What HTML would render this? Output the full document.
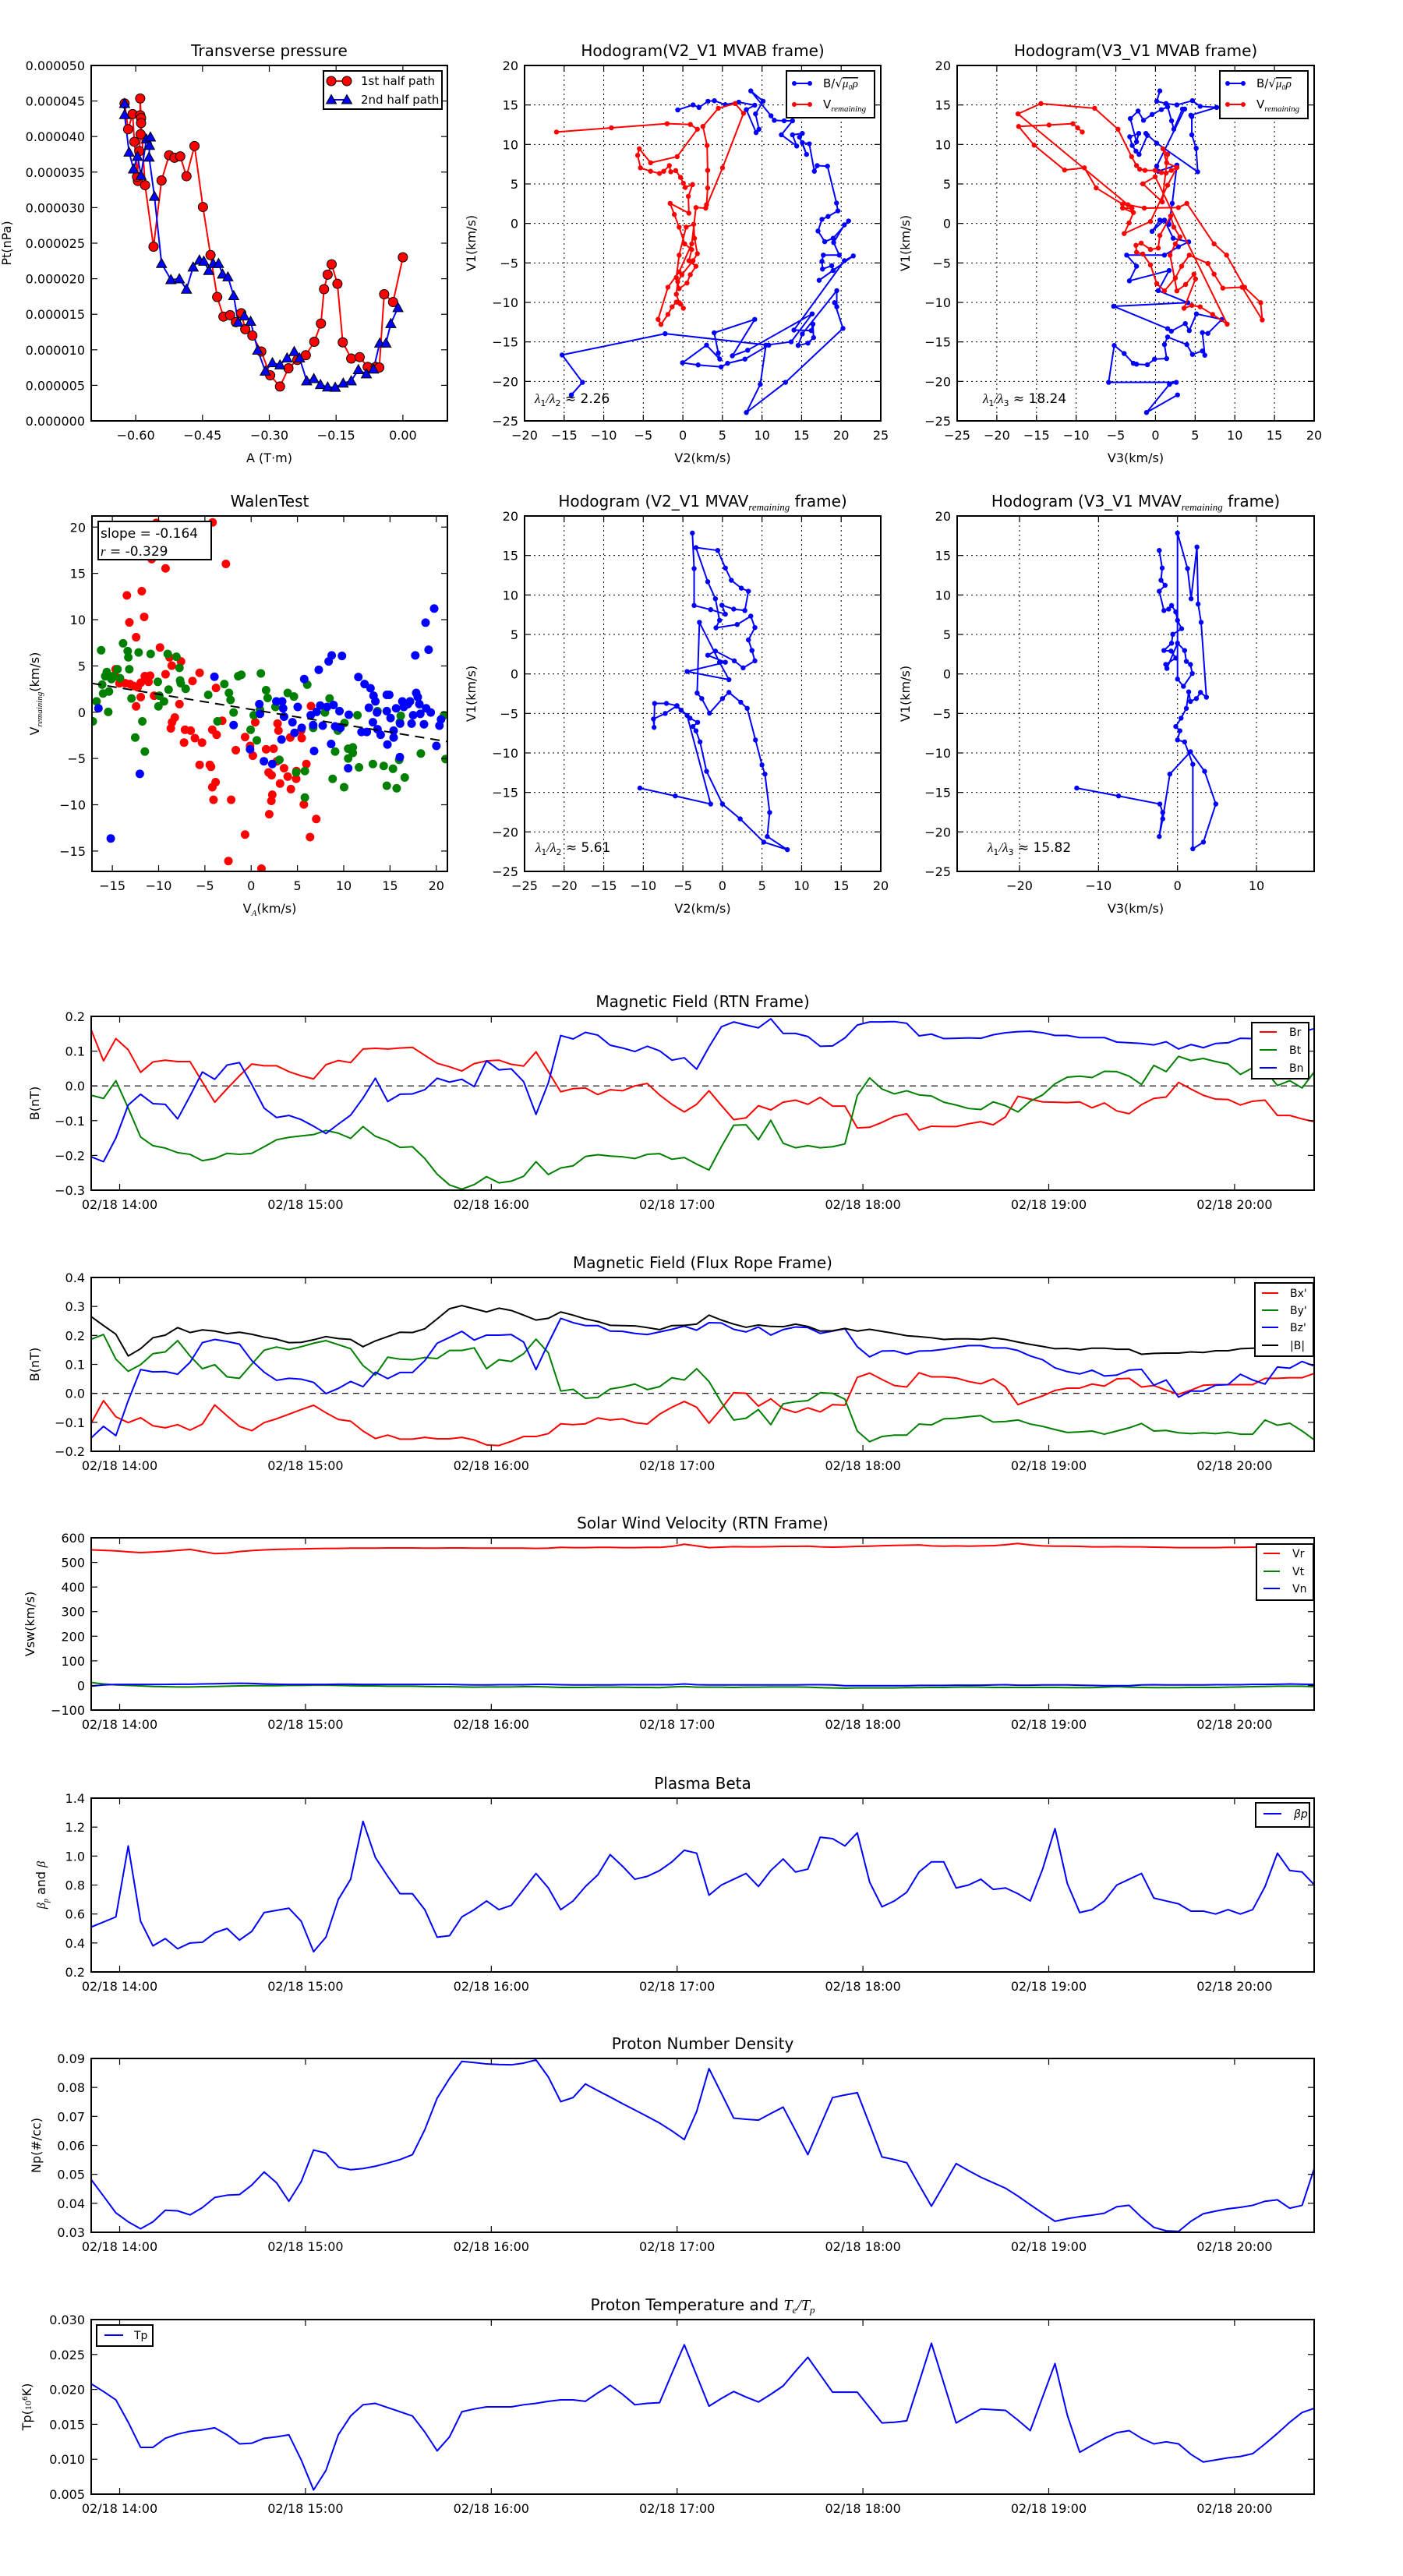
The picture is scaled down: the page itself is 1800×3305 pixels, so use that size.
<!DOCTYPE html>
<html><head><meta charset="utf-8"><title>Flux rope analysis figure</title>
<style>
html,body{margin:0;padding:0;background:#fff;}
svg text{font-family:"DejaVu Sans","Liberation Sans",sans-serif;fill:#000;}
</style></head>
<body>
<svg id="fig" xmlns="http://www.w3.org/2000/svg" width="1800" height="3300" viewBox="0 0 1800 3300">
<rect x="0" y="0" width="1800" height="3300" fill="#fff"/>
<defs id="defs"></defs>
</svg>
<script>
// ===== Transverse pressure data =====
const ptRedA=[-0.625,-0.617,-0.607,-0.603,-0.595,-0.597,-0.592,-0.589,-0.590,-0.590,-0.588,-0.588,-0.579,-0.560,-0.542,-0.525,-0.513,-0.500,-0.486,-0.468,-0.449,-0.432,-0.417,-0.403,-0.388,-0.375,-0.363,-0.354,-0.338,-0.318,-0.298,-0.276,-0.257,-0.237,-0.218,-0.199,-0.184,-0.177,-0.169,-0.160,-0.147,-0.135,-0.116,-0.097,-0.079,-0.061,-0.053,-0.042,-0.022,0.000];
const ptRedP=[44.65,41.03,43.16,39.26,33.75,34.34,37.96,40.32,43.00,45.36,42.60,41.90,33.16,24.51,33.83,37.37,37.02,37.21,34.42,38.67,30.09,23.33,17.43,14.67,14.87,13.89,15.15,12.90,12.00,9.76,6.41,4.84,7.40,8.58,9.24,11.13,13.69,18.53,20.57,22.03,19.28,11.05,8.77,8.97,7.59,7.59,7.51,17.82,16.72,23.01];
const ptBlueA=[-0.625,-0.625,-0.615,-0.605,-0.596,-0.588,-0.576,-0.567,-0.569,-0.570,-0.558,-0.542,-0.521,-0.502,-0.486,-0.471,-0.457,-0.447,-0.436,-0.426,-0.414,-0.405,-0.393,-0.380,-0.370,-0.356,-0.342,-0.326,-0.309,-0.293,-0.276,-0.260,-0.244,-0.232,-0.216,-0.200,-0.185,-0.169,-0.152,-0.134,-0.116,-0.100,-0.082,-0.066,-0.052,-0.038,-0.027,-0.011];
const ptBlueP=[44.65,43.08,37.81,35.44,37.21,34.54,39.65,39.93,38.75,37.10,31.59,22.15,19.87,19.98,18.53,21.64,22.62,22.46,21.16,22.15,22.15,20.65,20.26,17.62,13.89,14.75,14.00,9.95,7.00,8.18,7.87,8.85,9.76,8.85,5.63,5.94,5.11,4.76,4.72,5.31,5.63,7.20,6.61,7.28,10.94,10.94,13.69,15.93];
const ptXTicks=[-0.60,-0.45,-0.30,-0.15,0.00];
const ptXLabels=["\u22120.60","\u22120.45","\u22120.30","\u22120.15","0.00"];
const ptYTicks=[0,5,10,15,20,25,30,35,40,45,50];
const ptYLabels=["0.000000","0.000005","0.000010","0.000015","0.000020","0.000025","0.000030","0.000035","0.000040","0.000045","0.000050"];

// ===== Hodogram V2_V1 MVAB =====
const h1BlueV2=[-0.65,1.29,2.04,3.17,3.98,5.36,7.06,9.08,8.02,9.25,9.61,9.18,10.14,8.58,11.13,11.55,12.79,13.85,12.44,14.38,13.85,15.09,14.74,15.62,15.09,15.97,16.61,16.97,18.27,19.41,19.58,18.34,17.57,17.07,17.92,18.98,20.93,20.40,19.05,19.76,17.74,17.57,17.64,18.80,18.98,17.21,21.53,20.40,14.03,16.22,16.43,16.51,15.80,14.56,15.09,19.44,19.44,19.16,20.22,12.97,8.02,9.78,10.49,13.68,16.33,8.19,6.25,9.08,3.95,4.48,4.66,2.99,-0.05,1.93,4.83,5.65,7.84,10.85,-2.24,-15.26,-12.68,-14.09];
const h1BlueV1=[14.37,15.01,14.69,15.47,15.54,15.04,15.36,14.97,14.41,11.50,11.93,13.87,15.47,16.78,13.63,13.06,12.99,12.99,11.22,9.80,11.22,11.40,10.93,8.74,10.23,10.08,6.61,7.32,7.25,2.58,1.59,0.88,0.52,-0.96,-2.31,-1.88,0.31,-0.18,-2.42,-4.01,-4.01,-4.79,-5.78,-5.35,-5.96,-7.20,-4.11,-4.72,-13.50,-13.57,-12.75,-14.45,-15.16,-15.45,-13.99,-8.51,-10.56,-10.03,-13.29,-20.12,-23.94,-20.37,-15.41,-14.99,-11.45,-16.05,-16.76,-12.15,-13.85,-16.40,-17.18,-15.41,-17.64,-17.92,-18.17,-17.71,-17.18,-15.41,-13.96,-16.65,-20.12,-21.71];
const h1RedV2=[-15.97,-9.03,-1.99,0.94,1.83,-0.72,-4.08,-5.50,-5.71,-5.36,-4.08,-2.95,-2.42,-1.71,-1.53,-0.90,-0.30,0.06,0.30,1.22,0.69,0.76,-1.61,-1.08,-0.47,0.23,1.12,0.76,1.65,0.94,0.52,-0.47,-0.83,-0.47,0.41,1.37,1.47,1.83,1.29,-0.12,-0.65,-0.83,-0.47,0.06,-0.30,-0.83,-1.36,-1.89,-2.77,-3.13,-1.89,-0.47,1.12,1.65,2.89,5.01,7.66,6.60,4.48,2.53,3.06,3.13,3.13,2.99];
const h1RedV1=[11.57,12.10,12.63,12.53,11.93,8.46,7.68,9.45,8.63,7.04,6.61,6.33,6.61,7.32,6.54,6.69,5.84,5.09,4.56,4.92,3.43,1.30,2.54,1.13,-0.47,-2.59,-3.30,-4.72,-5.42,-6.49,-7.55,-8.26,-6.84,-4.01,-0.47,-0.11,-1.88,-3.83,-4.72,-6.49,-7.37,-8.97,-10.03,-10.74,-10.21,-9.96,-10.56,-11.52,-12.79,-12.15,-8.08,-6.13,-2.59,2.01,1.94,7.04,13.94,15.18,14.58,12.28,9.87,6.72,4.49,2.37];

// ===== Hodogram V3_V1 MVAB =====
const h2BlueV3=[0.55,0.16,1.33,2.70,4.66,5.63,7.71,4.46,4.58,4.58,5.13,5.32,0.16,-1.21,-1.02,-2.07,-2.46,-2.93,-3.25,-2.11,-2.39,-3.17,-2.19,-1.51,-0.43,0.74,1.53,2.03,2.31,3.40,3.68,0.16,0.35,2.70,2.11,1.72,0.55,-0.43,1.13,2.23,4.19,2.89,1.13,-3.64,-2.39,-3.29,1.72,0.35,4.07,-5.28,1.53,2.00,3.76,4.26,5.16,8.37,6.61,5.91,6.22,5.91,4.66,3.95,1.53,1.13,1.41,-0.12,-1.02,-2.39,-2.79,-3.95,-5.20,-5.91,2.62,1.76,-1.13,2.78];
const h2BlueV1=[16.78,15.47,15.18,15.01,15.54,14.83,14.69,13.70,13.52,11.22,9.52,6.54,10.16,11.40,11.15,8.74,9.16,9.87,10.97,11.40,10.33,13.27,14.23,13.06,13.80,14.41,14.76,12.99,11.93,14.48,14.48,7.25,6.61,7.39,2.54,-0.11,0.42,-1.00,0.42,-1.88,-2.34,-2.95,-4.01,-4.01,-5.42,-7.27,-5.96,-8.51,-10.03,-10.49,-13.32,-13.64,-12.68,-13.57,-11.45,-12.15,-13.92,-13.82,-16.69,-16.15,-16.58,-15.34,-14.38,-15.34,-17.11,-17.18,-17.89,-17.82,-17.71,-16.47,-15.45,-20.12,-20.12,-20.37,-23.94,-21.71];
const h2RedV3=[-9.23,-9.82,-10.41,-13.42,-17.25,-15.30,-11.46,-8.96,-7.47,-4.15,-3.48,-2.97,-4.15,-2.78,-3.33,-3.95,-0.63,1.53,2.70,2.00,1.33,0.74,-0.04,-1.33,-1.99,-2.39,-3.01,-4.73,-7.67,-14.44,-17.33,-3.48,-1.41,2.89,3.95,7.39,8.96,11.23,13.26,13.46,10.92,8.49,7.39,6.61,4.26,3.29,2.50,1.13,0.16,-0.63,-1.60,-2.39,-2.46,-1.80,-0.63,0.35,0.55,1.92,2.31,3.09,2.50,1.84,2.70,3.80,4.85,5.05,3.60,4.58,5.63,7.20,9.04,-0.04,-1.60,0.86,1.53,0.94,1.41,2.70];
const h2RedV1=[11.57,12.10,12.63,12.46,12.28,9.91,6.76,7.04,4.49,2.44,2.37,1.91,1.94,1.37,0.06,-1.28,0.24,4.84,7.08,6.72,6.37,6.44,6.72,6.72,6.86,7.32,8.46,11.93,14.58,15.18,13.87,2.37,1.94,2.01,2.54,-2.59,-4.01,-8.08,-10.03,-12.22,-8.08,-8.19,-6.42,-5.07,-4.01,-5.42,-6.91,-8.54,-7.62,-5.25,-3.87,-3.65,-2.77,-2.49,-3.30,-3.12,-1.53,0.95,-0.47,-1.71,-2.59,-4.01,-8.54,-7.73,-6.42,-7.02,-10.74,-10.38,-10.56,-11.52,-12.75,5.91,5.02,2.72,8.74,9.45,7.68,7.08];

// ===== Walen test =====
const walRedVA=[-10.25,-4.17,-10.75,-9.25,-2.73,-11.82,-13.43,-11.56,-13.16,-12.43,-9.85,-14.64,-14.70,-14.23,-13.60,-13.10,-12.70,-12.26,-11.93,-11.49,-10.92,-11.09,-10.49,-9.25,-8.58,-8.82,-7.58,-5.57,-6.34,-3.80,-7.75,-8.25,-8.55,-8.68,-7.15,-6.54,-7.25,-6.08,-5.31,-12.43,-11.93,-4.20,-3.73,-3.13,-1.66,-5.57,-4.47,-4.34,-4.20,-3.84,-4.07,-2.16,-2.46,-0.66,0.44,0.18,1.61,2.42,2.78,2.95,2.85,1.88,2.21,2.28,2.18,1.95,-0.66,1.11,3.12,3.55,3.95,4.22,4.29,4.86,4.89,5.46,5.39,5.96,5.69,6.46,7.03,6.36,-0.12];
const walRedV=[20.45,20.51,16.54,15.54,16.02,13.07,12.62,10.30,9.70,8.10,6.99,4.64,3.89,3.13,3.13,3.04,2.83,2.68,3.19,3.89,3.95,3.28,1.78,4.10,5.03,5.93,5.48,4.25,3.37,2.62,0.87,-0.57,-1.08,-1.75,-1.90,-1.99,-3.28,-2.80,-3.28,0.63,1.63,-1.90,-2.44,-0.93,-4.10,-5.69,-5.69,-5.90,-8.10,-7.56,-9.46,-9.46,-16.08,-2.68,-1.08,-4.70,-4.01,-3.95,-5.30,-1.99,-1.23,-6.51,-6.81,-8.92,-9.58,-11.02,-13.22,-16.90,-7.71,-6.05,-6.96,-2.74,-8.31,-7.20,-6.36,-2.80,-1.99,-5.60,-9.97,0.66,-11.54,-13.49,-3.64];
const walGreenVA=[-17.11,-16.71,-16.21,-16.10,-16.00,-15.77,-15.60,-15.44,-15.37,-15.10,-14.94,-14.44,-14.17,-13.84,-13.34,-13.27,-13.17,-12.93,-12.53,-12.16,-11.76,-11.49,-10.86,-10.09,-10.02,-9.92,-9.42,-8.92,-9.02,-8.08,-7.75,-7.68,-7.61,-7.08,-4.64,-3.64,-2.90,-2.40,-2.23,-1.90,-1.40,-1.06,-0.06,0.28,0.61,1.05,0.95,1.61,1.78,2.62,3.05,3.95,4.62,4.86,5.80,5.80,6.06,6.70,7.97,8.47,9.07,9.37,8.80,10.08,10.04,10.48,10.98,10.98,10.48,11.48,11.65,13.15,13.65,14.32,14.65,15.32,15.72,16.06,16.16,15.99,16.59,18.33,20.84,21.00];
const walGreenV=[-0.99,1.17,6.69,2.98,2.02,3.89,4.34,0.03,2.23,3.58,3.89,4.64,3.67,7.44,6.60,5.93,4.64,1.48,-2.74,6.45,-0.99,-4.25,6.30,3.28,0.63,1.78,1.17,2.44,6.30,5.99,4.79,3.43,3.13,2.53,1.87,-0.99,3.04,2.08,1.33,-0.03,3.89,4.04,-1.90,-0.33,-3.04,4.19,0.27,2.38,1.54,0.57,-5.15,2.08,1.69,-6.51,-9.22,-6.36,2.98,-1.69,-0.03,1.48,-4.25,-1.99,-7.20,-1.17,-8.10,-3.95,-3.80,-4.40,-5.00,-0.33,-5.96,-5.60,0.12,-5.81,-7.95,-6.11,-8.22,-1.08,-0.39,-5.15,-7.05,-4.46,-0.33,-5.06];
const walBlueVA=[-16.50,-15.17,-12.03,-3.97,-1.90,-0.12,0.88,0.95,1.38,2.28,2.72,3.35,3.45,3.28,3.55,4.46,4.69,5.03,5.46,5.73,6.43,6.70,6.80,7.07,7.30,7.46,7.73,8.20,8.37,8.70,8.64,8.90,9.07,9.54,9.64,9.81,10.55,10.48,11.58,11.92,12.25,12.49,12.72,12.89,13.15,13.22,13.42,13.59,13.65,13.99,14.65,14.92,14.65,14.72,15.06,15.39,15.66,15.39,16.09,16.06,16.33,16.49,16.93,17.16,17.33,17.50,17.73,17.83,18.00,18.17,18.27,18.67,18.90,18.84,19.17,19.40,19.77,20.01,20.34,20.51];
const walBlueV=[0.42,-13.64,-6.66,3.83,-1.39,-4.01,0.87,-0.18,-5.30,-5.60,1.17,1.17,0.42,-2.95,-0.48,-1.08,-2.23,0.57,-1.69,3.58,-0.33,-1.39,-4.19,0.03,4.58,0.72,-1.45,0.57,5.48,6.14,-3.43,0.78,-1.54,0.12,-1.69,6.08,-0.27,-6.05,3.80,-2.14,3.04,-2.14,0.48,2.59,-1.08,1.78,1.17,-0.03,-1.84,-2.44,1.87,1.87,0.12,-3.49,-0.63,-2.74,0.42,-1.99,-1.23,-4.85,1.17,0.57,0.87,1.17,-1.23,-0.33,6.14,2.08,1.63,0.87,-0.18,-1.30,0.42,9.67,6.75,-0.03,11.20,-3.64,-1.45,-0.78];
const walFit=[-0.164,0.3];
const walTicks=[-15,-10,-5,0,5,10,15,20];

// ===== Hodograms (MVAV remaining) =====
const h3V2=[-3.80,-3.58,-3.58,-1.49,0.37,-0.07,1.42,2.83,3.28,2.38,1.12,0.37,-0.60,-3.35,-1.86,-0.89,-0.37,-0.82,1.86,3.58,4.10,3.28,3.73,4.10,2.61,1.49,-0.89,-1.86,0.37,-4.47,0.82,-0.37,-2.91,-3.20,-2.61,-1.64,0,0.82,2.31,3.13,4.17,4.99,5.37,5.96,5.66,8.20,5.22,2.24,0,-2.01,-2.83,-3.35,-3.73,-3.13,-4.10,-5.22,-5.81,-7.23,-8.72,-8.64,-8.57,-7.08,-5.74,-4.47,-1.49,-5.96,-10.43];
const h3V1=[17.84,13.34,8.67,8.14,7.57,8.70,8.21,8.03,10.47,10.86,11.86,13.41,15.64,16.00,11.68,9.52,6.79,5.84,6.26,7.32,5.87,4.31,2.97,1.66,0.77,1.66,2.90,2.37,1.48,0.31,-0.72,1.48,6.54,-2.42,-3.12,-4.96,-3.12,-2.34,-3.58,-4.36,-8.36,-11.52,-12.68,-17.54,-20.58,-22.25,-21.29,-18.35,-16.47,-12.33,-8.61,-7.20,-6.66,-6.13,-5.60,-4.61,-4.08,-5.00,-5.71,-6.77,-3.73,-3.73,-4.01,-5.25,-16.47,-15.45,-14.45];
const h4V3=[-2.31,-1.94,-2.09,-1.57,-2.31,-1.72,-1.12,-0.75,-0.22,0,0.52,-0.60,-0.75,-1.72,-0.82,-0.22,-1.49,-1.34,0,0.90,1.12,1.64,1.87,0.75,0,0,1.27,1.72,2.46,2.61,2.99,3.66,2.91,2.39,1.64,1.42,1.12,0.45,-0.22,0.30,0,0.90,1.94,1.94,3.28,4.85,3.43,1.64,-0.97,-1.87,-2.31,-1.87,-2.24,-7.46,-12.76];
const h4V1=[15.64,13.41,11.86,11.22,10.47,8.03,8.21,8.67,7.85,6.79,5.73,5.02,3.89,2.97,2.90,2.01,1.20,0.70,3.89,2.97,1.59,1.20,0.06,-1.57,-0.65,17.84,13.34,9.52,16.07,8.85,6.54,-2.95,-2.34,-3.12,-3.48,-2.27,-4.36,-5.60,-6.66,-7.20,-8.36,-8.61,-11.44,-22.14,-21.29,-16.47,-12.33,-9.85,-12.68,-18.35,-20.58,-17.54,-16.47,-15.45,-14.45];
const hodoTicks=[-25,-20,-15,-10,-5,0,5,10,15,20,25];
const h4XTicks=[-20,-10,0,10];

// ===== Time series (4-min cadence, minutes after 14:00) =====
const tStartMin=-9.2, tStepMin=3.99;
const timeTicks=[0,60,120,180,240,300,360];
const timeLabels=["02/18 14:00","02/18 15:00","02/18 16:00","02/18 17:00","02/18 18:00","02/18 19:00","02/18 20:00"];
const br=[0.161,0.072,0.136,0.104,0.039,0.069,0.074,0.070,0.070,0.011,
-0.047,-0.008,0.029,0.063,0.058,0.058,0.041,0.029,0.020,0.061,
0.073,0.067,0.106,0.108,0.106,0.109,0.111,0.088,0.065,0.055,
0.043,0.064,0.072,0.074,0.062,0.057,0.098,0.041,-0.017,-0.008,
-0.006,-0.025,-0.011,-0.014,0.0,0.007,-0.026,-0.053,-0.075,-0.053,
-0.014,-0.056,-0.097,-0.092,-0.057,-0.069,-0.047,-0.041,-0.053,-0.033,
-0.058,-0.058,-0.121,-0.119,-0.105,-0.088,-0.080,-0.127,-0.116,-0.117,
-0.117,-0.109,-0.103,-0.112,-0.089,-0.030,-0.038,-0.046,-0.047,-0.048,
-0.046,-0.063,-0.049,-0.072,-0.080,-0.054,-0.036,-0.032,0.010,-0.009,
-0.027,-0.038,-0.039,-0.055,-0.044,-0.041,-0.085,-0.085,-0.095,-0.103];
const bt=[-0.027,-0.036,0.015,-0.064,-0.147,-0.172,-0.179,-0.192,-0.197,-0.215,
-0.209,-0.194,-0.197,-0.194,-0.175,-0.155,-0.148,-0.144,-0.140,-0.128,
-0.136,-0.151,-0.117,-0.145,-0.158,-0.177,-0.175,-0.209,-0.254,-0.285,
-0.297,-0.284,-0.261,-0.279,-0.274,-0.260,-0.218,-0.255,-0.236,-0.230,
-0.203,-0.198,-0.202,-0.204,-0.209,-0.197,-0.195,-0.211,-0.206,-0.225,
-0.242,-0.175,-0.113,-0.112,-0.155,-0.099,-0.165,-0.178,-0.172,-0.178,
-0.175,-0.167,-0.028,0.023,-0.009,-0.023,-0.014,-0.026,-0.029,-0.047,
-0.055,-0.065,-0.068,-0.046,-0.057,-0.075,-0.044,-0.026,0.006,0.025,
0.028,0.024,0.042,0.041,0.028,0.004,0.059,0.041,0.085,0.073,
0.079,0.070,0.063,0.033,0.052,0.045,0.001,0.015,-0.006,0.041];
const bn=[-0.204,-0.218,-0.150,-0.055,-0.024,-0.051,-0.053,-0.095,-0.029,0.040,
0.019,0.060,0.067,0.004,-0.064,-0.091,-0.085,-0.097,-0.116,-0.137,
-0.110,-0.084,-0.035,0.022,-0.045,-0.024,-0.023,-0.011,0.022,0.011,
0.019,-0.002,0.072,0.046,0.049,0.012,-0.082,0.009,0.145,0.135,
0.154,0.146,0.117,0.109,0.099,0.114,0.101,0.074,0.081,0.048,
0.112,0.170,0.184,0.175,0.167,0.193,0.151,0.151,0.142,0.114,
0.115,0.138,0.175,0.184,0.184,0.185,0.180,0.144,0.149,0.136,
0.137,0.138,0.137,0.147,0.153,0.156,0.157,0.153,0.145,0.145,
0.139,0.139,0.139,0.126,0.124,0.122,0.118,0.127,0.106,0.119,
0.110,0.122,0.124,0.137,0.136,0.135,0.130,0.140,0.155,0.165];
const bxp=[-0.103,-0.025,-0.081,-0.101,-0.084,-0.112,-0.119,-0.108,-0.127,-0.106,
-0.040,-0.078,-0.114,-0.129,-0.101,-0.088,-0.072,-0.056,-0.041,-0.067,
-0.090,-0.096,-0.130,-0.156,-0.144,-0.158,-0.158,-0.152,-0.157,-0.157,
-0.152,-0.161,-0.178,-0.180,-0.166,-0.149,-0.149,-0.139,-0.105,-0.108,
-0.105,-0.085,-0.092,-0.088,-0.101,-0.106,-0.072,-0.048,-0.028,-0.048,
-0.103,-0.053,0.002,0.000,-0.044,-0.019,-0.053,-0.066,-0.050,-0.064,
-0.039,-0.041,0.055,0.070,0.048,0.027,0.022,0.071,0.057,0.057,
0.053,0.041,0.033,0.050,0.022,-0.039,-0.023,-0.009,0.010,0.018,
0.018,0.032,0.025,0.050,0.052,0.022,0.027,0.011,-0.003,0.011,
0.028,0.030,0.030,0.030,0.030,0.052,0.052,0.054,0.054,0.069];
const byp=[0.187,0.203,0.118,0.076,0.099,0.137,0.143,0.182,0.129,0.085,
0.099,0.057,0.052,0.101,0.149,0.160,0.151,0.161,0.173,0.182,
0.168,0.154,0.096,0.063,0.125,0.118,0.116,0.124,0.120,0.148,
0.148,0.157,0.085,0.116,0.110,0.137,0.187,0.140,0.008,0.014,
-0.017,-0.014,0.015,0.022,0.032,0.013,0.023,0.054,0.046,0.085,
0.041,-0.031,-0.092,-0.086,-0.056,-0.108,-0.036,-0.029,-0.025,0.002,
0.000,-0.020,-0.130,-0.167,-0.149,-0.144,-0.144,-0.106,-0.109,-0.088,
-0.086,-0.081,-0.077,-0.099,-0.097,-0.092,-0.106,-0.114,-0.125,-0.135,
-0.133,-0.130,-0.141,-0.130,-0.119,-0.104,-0.130,-0.128,-0.136,-0.139,
-0.136,-0.139,-0.134,-0.141,-0.141,-0.092,-0.110,-0.103,-0.130,-0.161];
const bzp=[-0.154,-0.114,-0.146,-0.025,0.082,0.074,0.075,0.066,0.107,0.175,
0.186,0.179,0.170,0.113,0.073,0.045,0.052,0.049,0.038,-0.001,
0.017,0.041,0.023,0.073,0.051,0.072,0.072,0.113,0.173,0.193,
0.214,0.184,0.201,0.201,0.203,0.177,0.082,0.173,0.259,0.244,
0.234,0.234,0.215,0.214,0.207,0.203,0.212,0.221,0.232,0.218,
0.244,0.243,0.221,0.212,0.229,0.201,0.220,0.229,0.227,0.207,
0.215,0.223,0.161,0.126,0.146,0.147,0.135,0.146,0.147,0.152,
0.159,0.165,0.165,0.157,0.157,0.148,0.129,0.116,0.088,0.075,
0.067,0.080,0.060,0.063,0.080,0.083,0.028,0.046,-0.013,0.008,
0.008,0.028,0.030,0.066,0.046,0.032,0.091,0.087,0.110,0.094];
const bmag=[0.265,0.234,0.204,0.129,0.154,0.192,0.201,0.227,0.210,0.219,
0.215,0.206,0.211,0.204,0.194,0.187,0.175,0.176,0.185,0.196,
0.189,0.186,0.161,0.181,0.196,0.211,0.210,0.223,0.257,0.292,
0.303,0.292,0.281,0.294,0.286,0.270,0.253,0.259,0.281,0.270,
0.257,0.248,0.235,0.234,0.233,0.227,0.220,0.234,0.235,0.239,
0.270,0.253,0.239,0.228,0.236,0.231,0.230,0.239,0.231,0.215,
0.216,0.224,0.215,0.221,0.214,0.207,0.199,0.196,0.192,0.186,
0.188,0.188,0.186,0.191,0.186,0.177,0.169,0.162,0.154,0.155,
0.150,0.156,0.156,0.152,0.152,0.135,0.138,0.139,0.139,0.143,
0.141,0.147,0.147,0.154,0.156,0.158,0.160,0.165,0.170,0.196];
const vr=[551,549,547,543,540,542,545,549,553,544,
536,538,544,548,551,553,554,555,556,557,
557,558,558,558,559,559,559,558,558,559,
559,558,558,558,558,558,557,558,561,560,
560,561,561,560,560,561,561,565,574,567,
560,562,564,563,563,564,565,565,566,563,
562,563,565,566,568,569,570,571,567,566,
567,566,567,568,572,577,571,567,566,566,
565,563,563,564,563,563,562,561,560,560,
560,560,561,561,562,562,561,561,561,560];
const vt=[12,6,2,0,-2,-4,-5,-6,-6,-5,
-4,-3,-2,-1,-1,-1,0,0,1,1,
0,-1,-2,-2,-3,-3,-3,-4,-5,-5,
-6,-7,-6,-6,-6,-5,-5,-6,-8,-8,
-8,-7,-7,-7,-8,-8,-9,-6,-4,-7,
-7,-7,-8,-7,-7,-6,-6,-6,-7,-9,
-10,-11,-10,-10,-10,-10,-9,-9,-8,-8,
-7,-6,-7,-8,-8,-8,-8,-8,-8,-9,
-9,-9,-7,-5,-7,-8,-9,-9,-9,-8,
-8,-8,-7,-6,-5,-4,-3,-3,-3,-5];
const vn=[-3,2,4,4,4,4,4,5,5,6,
7,8,9,8,6,5,4,4,4,4,
5,5,4,4,4,4,4,4,4,4,
3,2,2,3,3,3,4,4,3,2,
2,2,2,3,3,3,3,3,6,3,
2,2,2,2,2,2,2,2,3,3,
2,-1,-1,-1,-1,-1,-1,0,0,0,
1,1,1,2,3,1,1,2,2,2,
1,0,-1,-1,-1,2,3,2,2,2,
2,3,3,3,4,4,5,6,5,4];
const betaP=[0.51,0.545,0.58,1.07,0.55,0.38,0.43,0.36,0.40,0.405,
0.47,0.50,0.42,0.48,0.61,0.625,0.64,0.55,0.34,0.44,
0.70,0.84,1.24,0.99,0.86,0.74,0.74,0.63,0.44,0.45,
0.58,0.63,0.69,0.63,0.66,0.77,0.88,0.78,0.63,0.69,
0.79,0.87,1.01,0.93,0.84,0.86,0.90,0.96,1.04,1.02,
0.73,0.80,0.84,0.88,0.79,0.90,0.98,0.89,0.91,1.13,
1.12,1.07,1.16,0.82,0.65,0.69,0.75,0.89,0.96,0.96,
0.78,0.80,0.84,0.77,0.78,0.74,0.69,0.91,1.19,0.81,
0.61,0.63,0.69,0.80,0.84,0.88,0.71,0.69,0.67,0.62,
0.62,0.60,0.63,0.60,0.63,0.79,1.02,0.90,0.89,0.80];
const np=[0.0482,0.0425,0.0367,0.0336,0.0312,0.0336,0.0376,0.0374,0.036,0.0385,
0.042,0.0428,0.043,0.0463,0.0508,0.0471,0.0407,0.0475,0.0584,0.0573,
0.0525,0.0516,0.052,0.0528,0.0539,0.0551,0.0568,0.0654,0.0763,0.0831,
0.089,0.0886,0.0881,0.0879,0.0878,0.0884,0.0895,0.0836,0.0751,0.0765,
0.0812,0.0789,0.0767,0.0744,0.0722,0.070,0.0677,0.065,0.062,0.0717,
0.0865,0.078,0.0694,0.069,0.0687,0.071,0.0732,0.0651,0.0568,0.0667,
0.0765,0.0774,0.0782,0.0672,0.056,0.0551,0.054,0.0464,0.039,0.0463,
0.0537,0.0513,0.049,0.0471,0.0452,0.0425,0.0395,0.0366,0.0338,0.0347,
0.0354,0.0359,0.0366,0.0388,0.0393,0.0352,0.0317,0.0305,0.0303,0.0338,
0.0364,0.0373,0.0381,0.0386,0.0393,0.0407,0.0412,0.0383,0.0393,0.0523];
const tp=[0.0208,0.0197,0.0185,0.0153,0.0117,0.0117,0.0130,0.0136,0.0140,0.0142,
0.0145,0.0135,0.0122,0.0123,0.0130,0.0132,0.0135,0.0099,0.0056,0.0084,
0.0135,0.0162,0.0178,0.0180,0.0174,0.0168,0.0162,0.0139,0.0112,0.0132,
0.0168,0.0172,0.0175,0.0175,0.0175,0.0178,0.0180,0.0183,0.0185,0.0185,
0.0183,0.0195,0.0206,0.0193,0.0178,0.0180,0.0181,0.0223,0.0264,0.0220,
0.0176,0.0187,0.0197,0.0189,0.0182,0.0193,0.0205,0.0226,0.0246,0.0221,
0.0196,0.0196,0.0196,0.0174,0.0152,0.0153,0.0155,0.0210,0.0266,0.0209,
0.0152,0.0162,0.0172,0.0171,0.0170,0.0156,0.0141,0.0189,0.0237,0.0163,
0.0110,0.0120,0.0130,0.0138,0.0141,0.0130,0.0122,0.0125,0.0122,0.0107,
0.0096,0.0099,0.0102,0.0104,0.0108,0.0122,0.0137,0.0153,0.0167,0.0173];

// ===== drawing helpers =====
const NS='http://www.w3.org/2000/svg';
const svg=document.getElementById('fig');
const defs=document.getElementById('defs');
let clipId=0;
function el(tag,attrs,parent){const e=document.createElementNS(NS,tag);for(const k in attrs)e.setAttribute(k,attrs[k]);(parent||svg).appendChild(e);return e;}
function fmtNeg(v,d){const s=Math.abs(v).toFixed(d);return (v<0?'\u2212':'')+s;}

function makeAxes(o){
  o.sx=v=>o.x0+(v-o.xmin)/(o.xmax-o.xmin)*(o.x1-o.x0);
  o.sy=v=>o.y1-(v-o.ymin)/(o.ymax-o.ymin)*(o.y1-o.y0);
  const g=el('g',{});
  
  
  o.g=g;
  const cid='clip'+(clipId++);
  const cp=el('clipPath',{id:cid},defs);
  el('rect',{x:o.x0,y:o.y0,width:o.x1-o.x0,height:o.y1-o.y0},cp);
  o.clip='url(#'+cid+')';
  const data=el('g',{'clip-path':o.clip},g);
  
  
  o.data=data;
  return o;
}
function grid(o,xt,yt){
  const gg=el('g',{stroke:'#000','stroke-width':1,'stroke-dasharray':'2,4'},o.data);
  
  
  xt.forEach(v=>{const x=o.sx(v);el('line',{x1:x,x2:x,y1:o.y0,y2:o.y1},gg);});
  yt.forEach(v=>{const y=o.sy(v);el('line',{x1:o.x0,x2:o.x1,y1:y,y2:y},gg);});
}
function frame(o,xt,xl,yt,yl,fs){
  fs=fs||16;
  const tg=el('g',{stroke:'#000','stroke-width':1.2},o.g);
  
  
  xt.forEach(v=>{const x=o.sx(v);if(x<o.x0-0.5||x>o.x1+0.5)return;el('line',{x1:x,x2:x,y1:o.y1,y2:o.y1-8},tg);el('line',{x1:x,x2:x,y1:o.y0,y2:o.y0+8},tg);});
  yt.forEach(v=>{const y=o.sy(v);if(y<o.y0-0.5||y>o.y1+0.5)return;el('line',{x1:o.x0,x2:o.x0+8,y1:y,y2:y},tg);el('line',{x1:o.x1,x2:o.x1-8,y1:y,y2:y},tg);});
  const r=el('rect',{x:o.x0,y:o.y0,width:o.x1-o.x0,height:o.y1-o.y0,fill:'none',stroke:'#000','stroke-width':2},o.g);
  
  
  const xg=el('g',{'font-size':fs,'text-anchor':'middle'},o.g);
  
  
  xt.forEach((v,i)=>{const x=o.sx(v);if(x<o.x0-1||x>o.x1+1)return;const t=el('text',{x:x,y:o.y1+24},xg);t.textContent=xl[i];});
  const yg=el('g',{'font-size':fs,'text-anchor':'end'},o.g);
  
  
  yt.forEach((v,i)=>{const y=o.sy(v);if(y<o.y0-1||y>o.y1+1)return;const t=el('text',{x:o.x0-8,y:y+6},yg);t.textContent=yl[i];});
}
function title(o,txt,sub,after){
  const t=el('text',{x:(o.x0+o.x1)/2,y:o.y0-12,'font-size':20,'text-anchor':'middle'},o.g);
  
  
  if(sub){t.appendChild(document.createTextNode(txt));const s=el('tspan',{'font-size':13,'font-style':'italic',dy:5,'font-family':'Liberation Serif, serif'},t);s.textContent=sub;const a=el('tspan',{dy:-5},t);a.textContent=after;}
  else t.textContent=txt;
}
function xlabel(o,txt,sub){
  const t=el('text',{x:(o.x0+o.x1)/2,y:o.y1+53,'font-size':16,'text-anchor':'middle'},o.g);
  
  
  if(sub){t.appendChild(document.createTextNode('V'));const s=el('tspan',{'font-size':11,'font-style':'italic',dy:4,'font-family':'Liberation Serif, serif'},t);s.textContent=sub;const a=el('tspan',{dy:-4},t);a.textContent=txt;}
  else t.textContent=txt;
}
function ylabel(o,x,txt,pre,sub){
  const cy=(o.y0+o.y1)/2;
  const t=el('text',{x:x,y:cy,'font-size':16,'text-anchor':'middle',transform:'rotate(-90 '+x+' '+cy+')'},o.g);
  
  
  if(sub){t.appendChild(document.createTextNode(pre));const s=el('tspan',{'font-size':11,'font-style':'italic',dy:4,'font-family':'Liberation Serif, serif'},t);s.textContent=sub;const a=el('tspan',{dy:-4},t);a.textContent=txt;}
  else t.textContent=txt;
}
function polyline(o,xs,ys,color,w){
  const pts=xs.map((x,i)=>o.sx(x).toFixed(2)+','+o.sy(ys[i]).toFixed(2)).join(' ');
  return el('polyline',{points:pts,fill:'none',stroke:color,'stroke-width':w||2,'stroke-linejoin':'round'},o.data);
}
function dots(o,xs,ys,color,r,edge){
  const g=el('g',{fill:color},o.data);
  xs.forEach((x,i)=>{const c=el('circle',{cx:o.sx(x).toFixed(2),cy:o.sy(ys[i]).toFixed(2),r:r},g);if(edge){c.setAttribute('stroke','#000');c.setAttribute('stroke-width',1);}});
  return g;
}
function tris(o,xs,ys,color,s){
  const g=el('g',{fill:color,stroke:'#000','stroke-width':1},o.data);
  xs.forEach((x,i)=>{const cx=o.sx(x),cy=o.sy(ys[i]);el('polygon',{points:cx+','+(cy-s)+' '+(cx-s)+','+(cy+s*0.8)+' '+(cx+s)+','+(cy+s*0.8)},g);});
  return g;
}
function legendBox(o,x0,y0,x1,y1){
  const g=el('g',{},o.g);
  
  
  el('rect',{x:x0,y:y0,width:x1-x0,height:y1-y0,fill:'#fff',stroke:'#000','stroke-width':2},g);
  return g;
}
function legendLine(g,x0,x1,y,color,label,tx,fs){
  const e=el('g',{},g);
  
  
  el('line',{x1:x0,x2:x1,y1:y,y2:y,stroke:color,'stroke-width':2},e);
  const t=el('text',{x:tx,y:y+5,'font-size':fs||14},e);
  t.textContent=label;
  return e;
}
function kTime(k){return tStartMin+k*tStepMin;}
function tsAxes(name,y0,y1,ymin,ymax){
  return makeAxes({name:name,x0:117,x1:1686,y0:y0,y1:y1,xmin:-9.19,xmax:385.7,ymin:ymin,ymax:ymax});
}
function tsSeries(o,vals,color,name){
  const xs=vals.map((v,k)=>kTime(k));
  const p=polyline(o,xs,vals,color,2);
  
  
}
function zeroLine(o){
  const l=el('line',{x1:o.x0,x2:o.x1,y1:o.sy(0),y2:o.sy(0),stroke:'#000','stroke-width':1.2,'stroke-dasharray':'8,6'},o.data);
  
  
}

// ===== Panel 1: Transverse pressure =====
const p1=makeAxes({name:'transverse-pressure-chart',x0:117,x1:574,y0:84,y1:540,xmin:-0.7,xmax:0.1,ymin:0,ymax:50});
let s;
s=polyline(p1,ptRedA,ptRedP,'#ff0000',2);


s=polyline(p1,ptBlueA,ptBlueP,'#0000ff',2);


s=dots(p1,ptRedA,ptRedP,'#ff0000',6,true);


s=tris(p1,ptBlueA,ptBlueP,'#0000ff',6.5);


frame(p1,ptXTicks,ptXLabels,ptYTicks,ptYLabels,16);
title(p1,'Transverse pressure');
xlabel(p1,'A (T\u00b7m)');
ylabel(p1,14,'Pt(nPa)');
{
  const g=legendBox(p1,415,91,567,140);
  const e1=legendLine(g,425,445,104,'#ff0000','1st half path',463,15);
  el('circle',{cx:425,cy:104,r:6,fill:'#ff0000',stroke:'#000'},e1);el('circle',{cx:445,cy:104,r:6,fill:'#ff0000',stroke:'#000'},e1);
  const e2=legendLine(g,425,445,128,'#0000ff','2nd half path',463,15);
  [425,445].forEach(cx=>el('polygon',{points:cx+','+(128-6.5)+' '+(cx-6.5)+','+(128+5)+' '+(cx+6.5)+','+(128+5),fill:'#0000ff',stroke:'#000'},e2));
}

// ===== Hodogram helpers =====
function hodoLegend(o,x0,y0,x1,y1,lx0,lx1,tx){
  const g=legendBox(o,x0,y0,x1,y1);
  const e1=legendLine(g,lx0,lx1,y0+16,'#0000ff','',tx,15);
  
  const t1=e1.querySelector('text');t1.textContent='B/\u221a';
  const ts=el('tspan',{'font-style':'italic','font-family':'Liberation Serif, serif','text-decoration':'overline'},t1);ts.textContent='\u03bc\u2080\u03c1';
  el('circle',{cx:lx0,cy:y0+16,r:3,fill:'#0000ff'},e1);el('circle',{cx:lx1,cy:y0+16,r:3,fill:'#0000ff'},e1);
  const e2=legendLine(g,lx0,lx1,y0+43,'#ff0000','V',tx,15);
  
  const t2=e2.querySelector('text');const sb=el('tspan',{'font-size':11,'font-style':'italic',dy:4,'font-family':'Liberation Serif, serif'},t2);sb.textContent='remaining';
  el('circle',{cx:lx0,cy:y0+43,r:3,fill:'#ff0000'},e2);el('circle',{cx:lx1,cy:y0+43,r:3,fill:'#ff0000'},e2);
}
function ratioText(o,x,y,a,b,val){
  const t=el('text',{x:x,y:y,'font-size':17},o.g);
  
  
  const i1=el('tspan',{'font-style':'italic','font-family':'Liberation Serif, serif'},t);i1.textContent='\u03bb';
  const s1=el('tspan',{'font-size':11,dy:4},t);s1.textContent='1';
  const i2=el('tspan',{dy:-4,'font-style':'italic','font-family':'Liberation Serif, serif'},t);i2.textContent='/\u03bb';
  const s2=el('tspan',{'font-size':11,dy:4},t);s2.textContent=b;
  const r=el('tspan',{dy:-4},t);r.textContent=' \u2248 '+val;
}
function tickLabels(arr){return arr.map(v=>fmtNeg(v,0));}

// ===== Panel 2: Hodogram V2_V1 MVAB =====
const p2=makeAxes({name:'hodogram-v2-v1-mvab',x0:673,x1:1130,y0:84,y1:540,xmin:-20,xmax:25,ymin:-25,ymax:20});
grid(p2,hodoTicks,hodoTicks);
s=polyline(p2,h1BlueV2,h1BlueV1,'#0000ff',2);
s=dots(p2,h1BlueV2,h1BlueV1,'#0000ff',3.2);
s=polyline(p2,h1RedV2,h1RedV1,'#ff0000',2);
s=dots(p2,h1RedV2,h1RedV1,'#ff0000',3.2);
frame(p2,hodoTicks,tickLabels(hodoTicks),hodoTicks,tickLabels(hodoTicks),16);
title(p2,'Hodogram(V2_V1 MVAB frame)');
xlabel(p2,'V2(km/s)');
ylabel(p2,610,'V1(km/s)');
hodoLegend(p2,1009,91,1122,151,1019,1039,1056);
ratioText(p2,686,517,'1','2','2.26');

// ===== Panel 3: Hodogram V3_V1 MVAB =====
const p3=makeAxes({name:'hodogram-v3-v1-mvab',x0:1228,x1:1686,y0:84,y1:540,xmin:-25,xmax:20,ymin:-25,ymax:20});
grid(p3,hodoTicks,hodoTicks);
s=polyline(p3,h2BlueV3,h2BlueV1,'#0000ff',2);
s=dots(p3,h2BlueV3,h2BlueV1,'#0000ff',3.2);
s=polyline(p3,h2RedV3,h2RedV1,'#ff0000',2);
s=dots(p3,h2RedV3,h2RedV1,'#ff0000',3.2);
frame(p3,hodoTicks,tickLabels(hodoTicks),hodoTicks,tickLabels(hodoTicks),16);
title(p3,'Hodogram(V3_V1 MVAB frame)');
xlabel(p3,'V3(km/s)');
ylabel(p3,1167,'V1(km/s)');
hodoLegend(p3,1565,91,1678,152,1575,1595,1612);
ratioText(p3,1261,517,'1','3','18.24');

// ===== Panel 4: Walen test =====
const p4=makeAxes({name:'walen-test-chart',x0:118,x1:574,y0:662,y1:1118,xmin:-17.2,xmax:21.2,ymin:-17.2,ymax:21.2});
s=dots(p4,walRedVA,walRedV,'#ff0000',5.5);
s=dots(p4,walGreenVA,walGreenV,'#008000',5.5);
s=dots(p4,walBlueVA,walBlueV,'#0000ff',5.5);
{
  const fx=[-17.2,21.2];
  const l=el('line',{x1:p4.sx(fx[0]),y1:p4.sy(walFit[0]*fx[0]+walFit[1]),x2:p4.sx(fx[1]),y2:p4.sy(walFit[0]*fx[1]+walFit[1]),stroke:'#000','stroke-width':2,'stroke-dasharray':'12,8'},p4.data);
  
  
}
frame(p4,walTicks,tickLabels(walTicks),walTicks,tickLabels(walTicks),16);
title(p4,'WalenTest');
xlabel(p4,'(km/s)','A');
ylabel(p4,50,'(km/s)','V','remaining');
{
  const g=el('g',{},p4.g);
  
  
  el('rect',{x:126,y:669,width:145,height:49,fill:'#fff',stroke:'#000','stroke-width':2},g);
  const t1=el('text',{x:129,y:690,'font-size':17},g);t1.textContent='slope = -0.164';
  const t2=el('text',{x:129,y:713,'font-size':17},g);
  const ri=el('tspan',{'font-style':'italic','font-family':'Liberation Serif, serif'},t2);ri.textContent='r';
  const rv=el('tspan',{},t2);rv.textContent=' = -0.329';
}

// ===== Panel 5: Hodogram V2_V1 MVAV remaining =====
const p5=makeAxes({name:'hodogram-v2-v1-mvav',x0:673,x1:1130,y0:662,y1:1118,xmin:-25,xmax:20,ymin:-25,ymax:20});
grid(p5,hodoTicks,hodoTicks);
s=polyline(p5,h3V2,h3V1,'#0000ff',2);
s=dots(p5,h3V2,h3V1,'#0000ff',3.2);
frame(p5,hodoTicks,tickLabels(hodoTicks),hodoTicks,tickLabels(hodoTicks),16);
title(p5,'Hodogram (V2_V1 MVAV','remaining',' frame)');
xlabel(p5,'V2(km/s)');
ylabel(p5,610,'V1(km/s)');
ratioText(p5,687,1093,'1','2','5.61');

// ===== Panel 6: Hodogram V3_V1 MVAV remaining =====
const p6=makeAxes({name:'hodogram-v3-v1-mvav',x0:1228,x1:1686,y0:662,y1:1118,xmin:-27.9,xmax:17.3,ymin:-25,ymax:20});
grid(p6,h4XTicks,hodoTicks);
s=polyline(p6,h4V3,h4V1,'#0000ff',2);
s=dots(p6,h4V3,h4V1,'#0000ff',3.2);
frame(p6,h4XTicks,tickLabels(h4XTicks),hodoTicks,tickLabels(hodoTicks),16);
title(p6,'Hodogram (V3_V1 MVAV','remaining',' frame)');
xlabel(p6,'V3(km/s)');
ylabel(p6,1167,'V1(km/s)');
ratioText(p6,1267,1093,'1','3','15.82');

// ===== Time series panels =====
const magTicks=[-0.3,-0.2,-0.1,0,0.1,0.2];
const ts1=tsAxes('magnetic-field-rtn-chart',1304,1527,-0.3,0.2);
zeroLine(ts1);
tsSeries(ts1,br,'#ff0000','br-line');
tsSeries(ts1,bt,'#008000','bt-line');
tsSeries(ts1,bn,'#0000ff','bn-line');
frame(ts1,timeTicks,timeLabels,magTicks,magTicks.map(v=>fmtNeg(v,1)),16);
title(ts1,'Magnetic Field (RTN Frame)');
ylabel(ts1,50,'B(nT)');
{const g=legendBox(ts1,1606,1312,1679,1384);
legendLine(g,1616,1638,1324,'#ff0000','Br',1654);
legendLine(g,1616,1638,1347,'#008000','Bt',1654);
legendLine(g,1616,1638,1370,'#0000ff','Bn',1654);}

const fluxTicks=[-0.2,-0.1,0,0.1,0.2,0.3,0.4];
const ts2=tsAxes('magnetic-field-flux-rope-chart',1639,1862,-0.2,0.4);
zeroLine(ts2);
tsSeries(ts2,bxp,'#ff0000','bx-prime-line');
tsSeries(ts2,byp,'#008000','by-prime-line');
tsSeries(ts2,bzp,'#0000ff','bz-prime-line');
tsSeries(ts2,bmag,'#000000','b-magnitude-line');
frame(ts2,timeTicks,timeLabels,fluxTicks,fluxTicks.map(v=>fmtNeg(v,1)),16);
title(ts2,'Magnetic Field (Flux Rope Frame)');
ylabel(ts2,50,'B(nT)');
{const g=legendBox(ts2,1610,1646,1685,1740);
legendLine(g,1619,1640,1659,'#ff0000',"Bx'",1655);
legendLine(g,1619,1640,1681,'#008000',"By'",1655);
legendLine(g,1619,1640,1703,'#0000ff',"Bz'",1655);
legendLine(g,1619,1640,1726,'#000000','|B|',1655);}

const velTicks=[-100,0,100,200,300,400,500,600];
const ts3=tsAxes('solar-wind-velocity-chart',1973,2194,-100,600);
tsSeries(ts3,vr,'#ff0000','vr-line');
tsSeries(ts3,vt,'#008000','vt-line');
tsSeries(ts3,vn,'#0000ff','vn-line');
frame(ts3,timeTicks,timeLabels,velTicks,velTicks.map(v=>fmtNeg(v,0)),16);
title(ts3,'Solar Wind Velocity (RTN Frame)');
ylabel(ts3,44,'Vsw(km/s)');
{const g=legendBox(ts3,1612,1981,1685,2053);
legendLine(g,1621,1642,1993,'#ff0000','Vr',1658);
legendLine(g,1621,1642,2016,'#008000','Vt',1658);
legendLine(g,1621,1642,2038,'#0000ff','Vn',1658);}

const betaTicks=[0.2,0.4,0.6,0.8,1.0,1.2,1.4];
const ts4=tsAxes('plasma-beta-chart',2307,2530,0.2,1.4);
tsSeries(ts4,betaP,'#0000ff','beta-p-line');
frame(ts4,timeTicks,timeLabels,betaTicks,betaTicks.map(v=>v.toFixed(1)),16);
title(ts4,'Plasma Beta');
{
  const cy=(ts4.y0+ts4.y1)/2;
  const t=el('text',{x:58,y:cy,'font-size':16,'text-anchor':'middle',transform:'rotate(-90 58 '+cy+')'},ts4.g);
  
  
  const a=el('tspan',{'font-style':'italic','font-family':'Liberation Serif, serif'},t);a.textContent='\u03b2';
  const b=el('tspan',{'font-size':10,'font-style':'italic',dy:4,'font-family':'Liberation Serif, serif'},t);b.textContent='p';
  const c=el('tspan',{dy:-4},t);c.textContent=' and ';
  const d=el('tspan',{'font-style':'italic','font-family':'Liberation Serif, serif'},t);d.textContent='\u03b2';
}
{const g=legendBox(ts4,1611,2313,1680,2344);
const e=legendLine(g,1621,1644,2327,'#0000ff','\u03b2p',1660);
e.querySelector('text').setAttribute('font-style','italic');}

const npTicks=[0.03,0.04,0.05,0.06,0.07,0.08,0.09];
const ts5=tsAxes('proton-density-chart',2641,2864,0.03,0.09);
tsSeries(ts5,np,'#0000ff','np-line');
frame(ts5,timeTicks,timeLabels,npTicks,npTicks.map(v=>v.toFixed(2)),16);
title(ts5,'Proton Number Density');
ylabel(ts5,52,'Np(#/cc)');

const tpTicks=[0.005,0.010,0.015,0.020,0.025,0.030];
const ts6=tsAxes('proton-temperature-chart',2976,3200,0.005,0.030);
tsSeries(ts6,tp,'#0000ff','tp-line');
frame(ts6,timeTicks,timeLabels,tpTicks,tpTicks.map(v=>v.toFixed(3)),16);
{
  const t=el('text',{x:(ts6.x0+ts6.x1)/2,y:ts6.y0-12,'font-size':20,'text-anchor':'middle'},ts6.g);
  
  
  t.appendChild(document.createTextNode('Proton Temperature and '));
  const a=el('tspan',{'font-style':'italic','font-family':'Liberation Serif, serif'},t);a.textContent='T';
  const b=el('tspan',{'font-size':13,'font-style':'italic',dy:4,'font-family':'Liberation Serif, serif'},t);b.textContent='e';
  const c=el('tspan',{dy:-4,'font-style':'italic','font-family':'Liberation Serif, serif'},t);c.textContent='/T';
  const d=el('tspan',{'font-size':13,'font-style':'italic',dy:4,'font-family':'Liberation Serif, serif'},t);d.textContent='p';
}
{
  const cy=(ts6.y0+ts6.y1)/2;
  const t=el('text',{x:40,y:cy,'font-size':16,'text-anchor':'middle',transform:'rotate(-90 40 '+cy+')'},ts6.g);
  
  
  t.appendChild(document.createTextNode('Tp('));
  const a=el('tspan',{'font-size':12,'font-family':'Liberation Serif, serif'},t);a.textContent='10';
  const b=el('tspan',{'font-size':9,dy:-5},t);b.textContent='6';
  const c=el('tspan',{dy:5},t);c.textContent='K)';
}
{const g=legendBox(ts6,124,2983,196,3010);
legendLine(g,134,158,2996,'#0000ff','Tp',172);}
</script>
</body></html>
